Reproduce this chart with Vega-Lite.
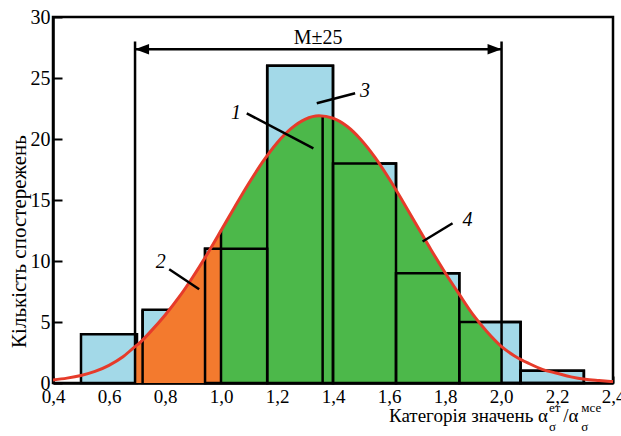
{
  "$schema": "https://vega.github.io/schema/vega-lite/v6.json",
  "width": 560,
  "height": 366,
  "autosize": {"type": "none"},
  "padding": {"left": 53, "top": 17, "right": 8, "bottom": 53},
  "background": "white",
  "config": {
    "view": {"stroke": "black", "strokeWidth": 2.5},
    "font": "Liberation Serif",
    "text": {"font": "Liberation Serif"}
  },
  "datasets": {
    "bins": [
      {"x0": 0.5, "x1": 0.7, "n": 4},
      {"x0": 0.72, "x1": 0.943, "n": 6},
      {"x0": 0.943, "x1": 1.165, "n": 11},
      {"x0": 1.165, "x1": 1.4, "n": 26},
      {"x0": 1.4, "x1": 1.625, "n": 18},
      {"x0": 1.625, "x1": 1.851, "n": 9},
      {"x0": 1.851, "x1": 2.07, "n": 5},
      {"x0": 2.07, "x1": 2.296, "n": 1}
    ],
    "curve": [
      {"x": 0.4, "y": 0.25}, {"x": 0.45, "y": 0.4}, {"x": 0.5, "y": 0.62},
      {"x": 0.55, "y": 0.95}, {"x": 0.6, "y": 1.45}, {"x": 0.65, "y": 2.15},
      {"x": 0.693, "y": 2.98}, {"x": 0.7, "y": 3.1}, {"x": 0.75, "y": 4.25},
      {"x": 0.8, "y": 5.55}, {"x": 0.85, "y": 7.03}, {"x": 0.9, "y": 8.71},
      {"x": 0.95, "y": 10.54}, {"x": 1.0, "y": 12.49}, {"x": 1.05, "y": 14.47},
      {"x": 1.1, "y": 16.39}, {"x": 1.15, "y": 18.16}, {"x": 1.2, "y": 19.68},
      {"x": 1.25, "y": 20.85}, {"x": 1.3, "y": 21.61}, {"x": 1.35, "y": 21.9},
      {"x": 1.4, "y": 21.7}, {"x": 1.45, "y": 21.04}, {"x": 1.5, "y": 19.94},
      {"x": 1.55, "y": 18.49}, {"x": 1.6, "y": 16.76}, {"x": 1.65, "y": 14.86},
      {"x": 1.7, "y": 12.89}, {"x": 1.75, "y": 10.93}, {"x": 1.8, "y": 9.06},
      {"x": 1.85, "y": 7.3}, {"x": 1.9, "y": 5.6}, {"x": 1.95, "y": 4.2},
      {"x": 2.002, "y": 2.98}, {"x": 2.05, "y": 2.2}, {"x": 2.1, "y": 1.6},
      {"x": 2.15, "y": 1.1}, {"x": 2.2, "y": 0.8}, {"x": 2.25, "y": 0.5},
      {"x": 2.3, "y": 0.3}, {"x": 2.35, "y": 0.2}, {"x": 2.4, "y": 0.12}
    ],
    "verticals": [
      {"x": 0.72, "y": 0, "y2": 6},
      {"x": 1.0, "y": 0, "y2": 12.49},
      {"x": 1.363, "y": 0, "y2": 21.88}
    ],
    "bounds": [
      {"x": 0.693, "y": 0, "y2": 28.0},
      {"x": 2.002, "y": 0, "y2": 28.0}
    ],
    "span": [
      {"x": 0.693, "x2": 2.002, "y": 27.35}
    ],
    "leaders": [
      {"x": 1.092, "y": 22.1, "x2": 1.33, "y2": 19.24},
      {"x": 1.342, "y": 22.93, "x2": 1.479, "y2": 23.75},
      {"x": 0.815, "y": 9.32, "x2": 0.922, "y2": 7.68},
      {"x": 1.827, "y": 13.09, "x2": 1.72, "y2": 11.6}
    ],
    "labels": [
      {"x": 1.054, "y": 22.1, "t": "1"},
      {"x": 0.785, "y": 9.94, "t": "2"},
      {"x": 1.514, "y": 23.9, "t": "3"},
      {"x": 1.88, "y": 13.36, "t": "4"}
    ],
    "xtitle": [
      {"x": 2.168, "y": -3.2, "t": "Категорія значень α"}
    ],
    "xtitleTail": [
      {"x": 2.222, "y": -3.2, "t": "/α"}
    ],
    "xtitleSup": [
      {"x": 2.171, "y": -2.35, "t": "ет"},
      {"x": 2.287, "y": -2.35, "t": "мсе"}
    ],
    "xtitleSub": [
      {"x": 2.171, "y": -3.95, "t": "σ"},
      {"x": 2.287, "y": -3.95, "t": "σ"}
    ]
  },
  "layer": [
    {
      "data": {"name": "bins"},
      "mark": {"type": "rect", "fill": "#a3d9e8", "stroke": "black", "strokeWidth": 2.5},
      "encoding": {
        "x": {
          "field": "x0", "type": "quantitative",
          "scale": {"domain": [0.4, 2.4], "nice": false, "zero": false},
          "axis": {
            "title": null,
            "values": [0.4, 0.6, 0.8, 1.0, 1.2, 1.4, 1.6, 1.8, 2.0, 2.2, 2.4],
            "labelExpr": "replace(format(datum.value, '.1f'), '.', ',')",
            "labelFont": "Liberation Serif", "labelFontSize": 19, "labelColor": "black",
            "labelPadding": 11, "labelFlush": false, "labelOverlap": false,
            "tickSize": -7, "tickWidth": 2, "tickColor": "black",
            "domainColor": "black", "domainWidth": 2.5, "grid": false
          }
        },
        "x2": {"field": "x1"},
        "y": {
          "field": "n", "type": "quantitative",
          "scale": {"domain": [0, 30], "nice": false},
          "axis": {
            "title": "Кількість спостережень",
            "titleFont": "Liberation Serif", "titleFontSize": 21, "titleFontWeight": "normal",
            "titleColor": "black", "titleX": -34, "titleY": 224, "titleBaseline": "middle", "titleAngle": -90,
            "values": [0, 5, 10, 15, 20, 25, 30],
            "labelFont": "Liberation Serif", "labelFontSize": 20, "labelColor": "black",
            "labelPadding": 12, "labelFlush": false, "labelOverlap": false,
            "tickSize": -9, "tickWidth": 2, "tickColor": "black",
            "domainColor": "black", "domainWidth": 2.5, "grid": false
          }
        },
        "y2": {"datum": 0}
      }
    },
    {
      "data": {"name": "curve"},
      "transform": [{"filter": "datum.x >= 0.69 && datum.x <= 1.0"}],
      "mark": {"type": "area", "color": "#f37a2e", "interpolate": "monotone", "opacity": 1},
      "encoding": {
        "x": {"field": "x", "type": "quantitative"},
        "y": {"field": "y", "type": "quantitative"}
      }
    },
    {
      "data": {"name": "curve"},
      "transform": [{"filter": "datum.x >= 1.0 && datum.x <= 2.01"}],
      "mark": {"type": "area", "color": "#4cb84a", "interpolate": "monotone", "opacity": 1},
      "encoding": {
        "x": {"field": "x", "type": "quantitative"},
        "y": {"field": "y", "type": "quantitative"}
      }
    },
    {
      "data": {"name": "bins"},
      "transform": [{"filter": "datum.x0 >= 0.9"}],
      "mark": {"type": "rect", "filled": false, "stroke": "black", "strokeWidth": 2.5},
      "encoding": {
        "x": {"field": "x0", "type": "quantitative"},
        "x2": {"field": "x1"},
        "y": {"field": "n", "type": "quantitative"},
        "y2": {"datum": 0}
      }
    },
    {
      "data": {"name": "verticals"},
      "mark": {"type": "rule", "color": "black", "strokeWidth": 2.5},
      "encoding": {
        "x": {"field": "x", "type": "quantitative"},
        "y": {"field": "y", "type": "quantitative"},
        "y2": {"field": "y2"}
      }
    },
    {
      "data": {"name": "bounds"},
      "mark": {"type": "rule", "color": "black", "strokeWidth": 2.5},
      "encoding": {
        "x": {"field": "x", "type": "quantitative"},
        "y": {"field": "y", "type": "quantitative"},
        "y2": {"field": "y2"}
      }
    },
    {
      "data": {"name": "curve"},
      "mark": {"type": "line", "color": "#e63b2a", "strokeWidth": 3, "interpolate": "monotone"},
      "encoding": {
        "x": {"field": "x", "type": "quantitative"},
        "y": {"field": "y", "type": "quantitative"}
      }
    },
    {
      "data": {"name": "span"},
      "mark": {"type": "rule", "color": "black", "strokeWidth": 2.5},
      "encoding": {
        "x": {"field": "x", "type": "quantitative"},
        "x2": {"field": "x2"},
        "y": {"field": "y", "type": "quantitative"}
      }
    },
    {
      "data": {"name": "span"},
      "mark": {"type": "point", "shape": "M0,0L2,-0.75L2,0.75Z", "filled": true, "color": "black", "size": 196, "opacity": 1},
      "encoding": {
        "x": {"field": "x", "type": "quantitative"},
        "y": {"field": "y", "type": "quantitative"}
      }
    },
    {
      "data": {"name": "span"},
      "mark": {"type": "point", "shape": "M0,0L-2,-0.75L-2,0.75Z", "filled": true, "color": "black", "size": 196, "opacity": 1},
      "encoding": {
        "x": {"field": "x2", "type": "quantitative"},
        "y": {"field": "y", "type": "quantitative"}
      }
    },
    {
      "data": {"values": [{"x": 1.347, "y": 27.75, "t": "M±25"}]},
      "mark": {"type": "text", "font": "Liberation Serif", "fontSize": 20, "color": "black", "align": "center", "baseline": "alphabetic"},
      "encoding": {
        "x": {"field": "x", "type": "quantitative"},
        "y": {"field": "y", "type": "quantitative"},
        "text": {"field": "t"}
      }
    },
    {
      "data": {"name": "leaders"},
      "mark": {"type": "rule", "color": "black", "strokeWidth": 2.5},
      "encoding": {
        "x": {"field": "x", "type": "quantitative"},
        "x2": {"field": "x2"},
        "y": {"field": "y", "type": "quantitative"},
        "y2": {"field": "y2"}
      }
    },
    {
      "data": {"name": "labels"},
      "mark": {"type": "text", "font": "Liberation Serif", "fontSize": 20, "fontStyle": "italic", "color": "black", "align": "center", "baseline": "middle"},
      "encoding": {
        "x": {"field": "x", "type": "quantitative"},
        "y": {"field": "y", "type": "quantitative"},
        "text": {"field": "t"}
      }
    },
    {
      "data": {"name": "xtitle"},
      "mark": {"type": "text", "font": "Liberation Serif", "fontSize": 19, "color": "black", "align": "right", "baseline": "alphabetic"},
      "encoding": {
        "x": {"field": "x", "type": "quantitative"},
        "y": {"field": "y", "type": "quantitative"},
        "text": {"field": "t"}
      }
    },
    {
      "data": {"name": "xtitleTail"},
      "mark": {"type": "text", "font": "Liberation Serif", "fontSize": 19, "color": "black", "align": "left", "baseline": "alphabetic"},
      "encoding": {
        "x": {"field": "x", "type": "quantitative"},
        "y": {"field": "y", "type": "quantitative"},
        "text": {"field": "t"}
      }
    },
    {
      "data": {"name": "xtitleSup"},
      "mark": {"type": "text", "font": "Liberation Serif", "fontSize": 13, "color": "black", "align": "left", "baseline": "alphabetic"},
      "encoding": {
        "x": {"field": "x", "type": "quantitative"},
        "y": {"field": "y", "type": "quantitative"},
        "text": {"field": "t"}
      }
    },
    {
      "data": {"name": "xtitleSub"},
      "mark": {"type": "text", "font": "Liberation Serif", "fontSize": 13, "color": "black", "align": "left", "baseline": "alphabetic"},
      "encoding": {
        "x": {"field": "x", "type": "quantitative"},
        "y": {"field": "y", "type": "quantitative"},
        "text": {"field": "t"}
      }
    }
  ]
}
